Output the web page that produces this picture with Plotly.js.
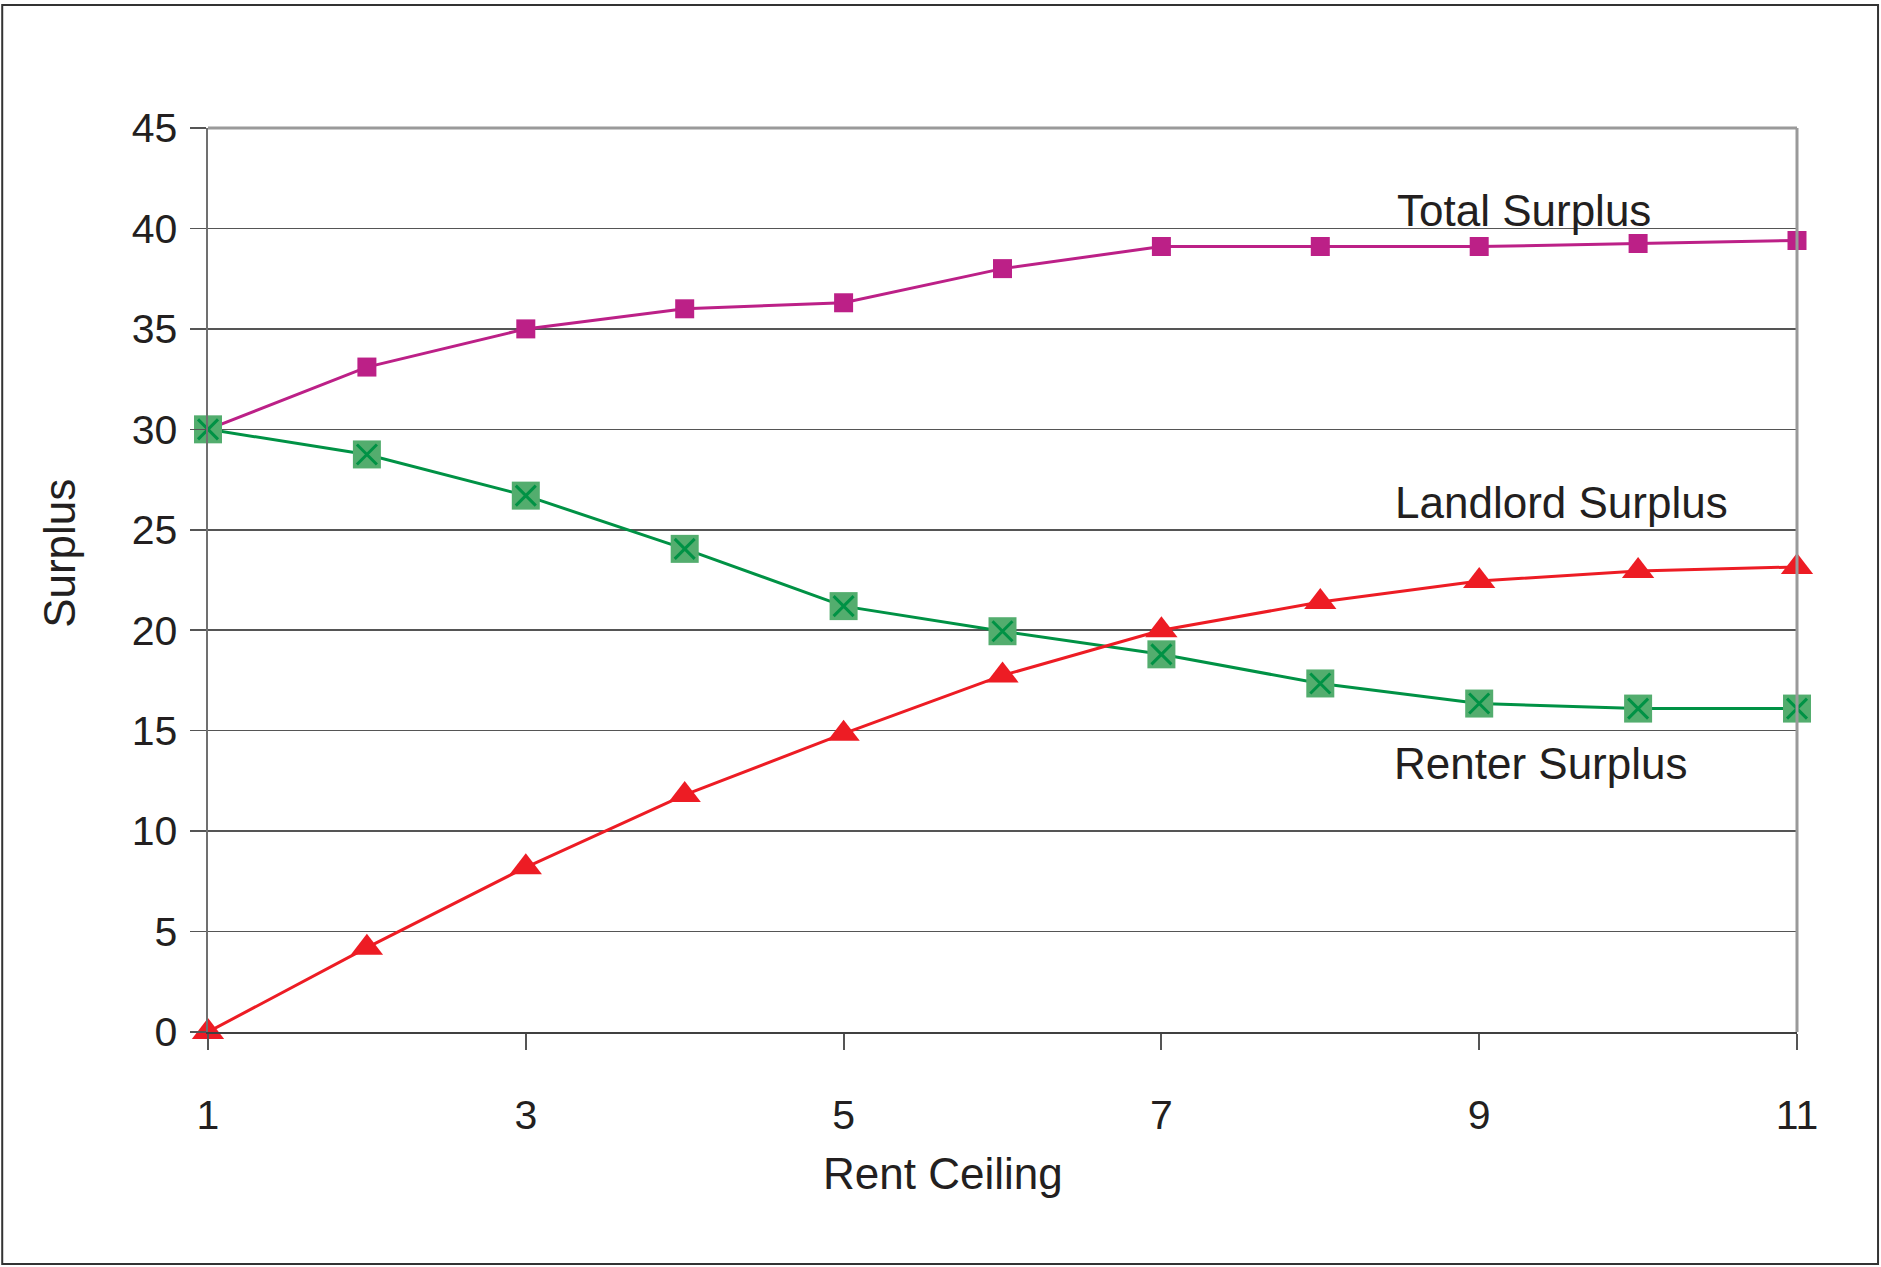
<!DOCTYPE html>
<html>
<head>
<meta charset="utf-8">
<script src="https://cdn.plot.ly/plotly-3.0.1.min.js"></script>
<style>
  html, body { margin: 0; padding: 0; background: #fff; }
  #chart { width: 1881px; height: 1267px; }
</style>
</head>
<body>
<div id="chart"></div>
<script>
const rentCeiling = [1, 2, 3, 4, 5, 6, 7, 8, 9, 10, 11];
const totalSurplus = [30, 33.1, 35.0, 36.0, 36.3, 38.0, 39.1, 39.1, 39.1, 39.25, 39.4];
const renterSurplus = [30, 28.75, 26.7, 24.05, 21.2, 19.95, 18.8, 17.35, 16.35, 16.1, 16.1];
const landlordSurplus = [0, 4.2, 8.2, 11.8, 14.85, 17.75, 20.0, 21.4, 22.45, 22.95, 23.15];
const seriesLabels = ["Total Surplus", "Landlord Surplus", "Renter Surplus"];
const xTitle = "Rent Ceiling";
const yTitle = "Surplus";

const FONT = '"Liberation Sans", Arial, Helvetica, sans-serif';
const TXT = '#231f20';

const traces = [
  {
    x: rentCeiling, y: totalSurplus, name: seriesLabels[0], mode: 'lines+markers',
    line: {color: '#bc2087', width: 3},
    marker: {symbol: 'square', size: 19, color: '#bc2087', line: {width: 0}},
    cliponaxis: false, showlegend: false
  },
  {
    x: rentCeiling, y: renterSurplus, name: seriesLabels[2], mode: 'lines+markers',
    line: {color: '#009245', width: 3},
    marker: {symbol: 'square', size: 28, color: '#53ad6e', line: {width: 0}},
    cliponaxis: false, showlegend: false
  },
  {
    x: rentCeiling, y: renterSurplus, name: seriesLabels[2] + ' x', mode: 'markers',
    marker: {symbol: 'x-thin-open', size: 20, color: '#009245', line: {color: '#009245', width: 3}},
    cliponaxis: false, showlegend: false, hoverinfo: 'skip'
  },
  {
    x: rentCeiling, y: landlordSurplus, name: seriesLabels[1], mode: 'lines+markers',
    line: {color: '#ed1c24', width: 3},
    marker: {symbol: 'triangle-up', size: 28, color: '#ed1c24', line: {width: 0}},
    cliponaxis: false, showlegend: false
  }
];

const layout = {
  width: 1881, height: 1267,
  margin: {l: 208, r: 84, t: 128, b: 235},
  paper_bgcolor: '#ffffff', plot_bgcolor: '#ffffff',
  font: {family: FONT, color: TXT, size: 41},
  showlegend: false,
  xaxis: {
    range: [1, 11], tickmode: 'linear', tick0: 1, dtick: 2,
    showgrid: false, zeroline: false,
    showline: true, linecolor: '#404040', linewidth: 2,
    ticks: 'outside', ticklen: 16, tickwidth: 2, tickcolor: '#555555',
    ticklabelstandoff: 30,
    tickfont: {family: FONT, size: 41, color: TXT},
    fixedrange: true
  },
  yaxis: {
    range: [0, 45], tickmode: 'linear', tick0: 0, dtick: 5,
    showgrid: true, gridcolor: '#555555', gridwidth: 1.5,
    zeroline: false,
    showline: true, linecolor: '#707070', linewidth: 2.5,
    ticks: 'outside', ticklen: 16, tickwidth: 1.5, tickcolor: '#555555',
    ticklabelstandoff: 4,
    tickfont: {family: FONT, size: 41, color: TXT},
    fixedrange: true
  },
  shapes: [
    {type: 'line', xref: 'paper', yref: 'paper', x0: 0, x1: 1, y0: 1, y1: 1,
     line: {color: '#9a9a9a', width: 3}},
    {type: 'line', xref: 'paper', yref: 'paper', x0: 1, x1: 1, y0: 0, y1: 1,
     line: {color: '#9a9a9a', width: 3}},
    {type: 'rect', xref: 'paper', yref: 'paper', x0: -0.1295, x1: 1.051, y0: -0.2566, y1: 1.136,
     line: {color: '#333333', width: 2}, fillcolor: 'rgba(0,0,0,0)', layer: 'below'}
  ],
  annotations: [
    {text: seriesLabels[0], xref: 'x', yref: 'y', x: 8.47, y: 40.87, xanchor: 'left', yanchor: 'middle',
     showarrow: false, font: {family: FONT, size: 44, color: TXT}},
    {text: seriesLabels[1], xref: 'x', yref: 'y', x: 8.46, y: 26.38, xanchor: 'left', yanchor: 'middle',
     showarrow: false, font: {family: FONT, size: 44, color: TXT}},
    {text: seriesLabels[2], xref: 'x', yref: 'y', x: 8.45, y: 13.39, xanchor: 'left', yanchor: 'middle',
     showarrow: false, font: {family: FONT, size: 44, color: TXT}},
    {text: xTitle, xref: 'paper', yref: 'paper', x: 0.4625, y: -0.156, xanchor: 'center', yanchor: 'middle',
     showarrow: false, font: {family: FONT, size: 44, color: TXT}},
    {text: yTitle, xref: 'paper', yref: 'paper', x: -0.0931, y: 0.529, xanchor: 'center', yanchor: 'middle',
     textangle: -90, showarrow: false, font: {family: FONT, size: 44, color: TXT}}
  ]
};

Plotly.newPlot('chart', traces, layout, {displayModeBar: false, staticPlot: true});
</script>
</body>
</html>
